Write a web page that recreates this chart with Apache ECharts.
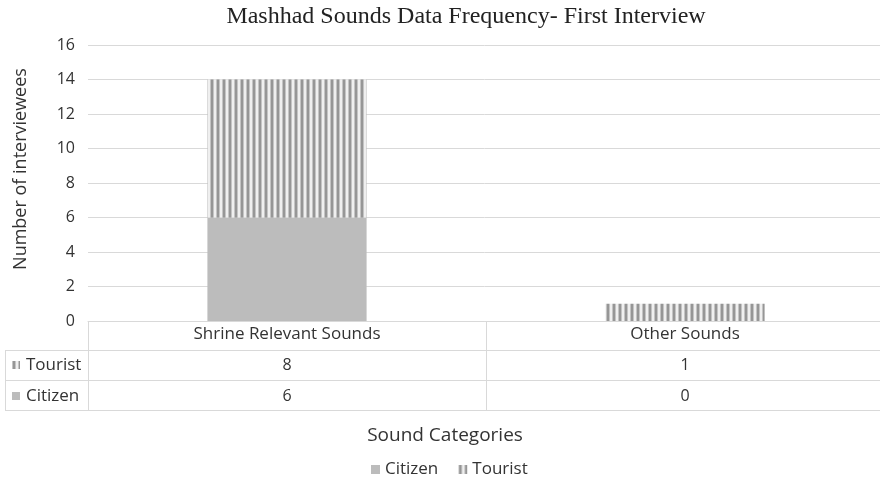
<!DOCTYPE html>
<html><head><meta charset="utf-8">
<script src="https://cdn.jsdelivr.net/npm/echarts@6/dist/echarts.min.js"></script>
<style>html,body{margin:0;padding:0;background:#fff}#chart{width:880px;height:482px}</style>
</head><body><div id="chart"></div>
<script>
// Chart data
const categories = ['Shrine Relevant Sounds', 'Other Sounds'];
const citizen = [6, 0];
const tourist = [8, 1];
const seriesNames = ['Citizen', 'Tourist'];
const yMin = 0, yMax = 16, yStep = 2;

const FONT = '"Open Sans", Lato, sans-serif';
const INK = '#333';
const LINE = '#d9d9d9';
const CITIZEN_COLOR = '#bcbcbc';

// vertical stripe fill used for the Tourist series
function stripes() {
  const c = document.createElement('canvas');
  c.width = 6; c.height = 6;
  const g = c.getContext('2d');
  const cols = ['#c4c4c4', '#969696', '#969696', '#c4c4c4', '#efefef', '#efefef'];
  cols.forEach((col, i) => { g.fillStyle = col; g.fillRect(i, 0, 1, 6); });
  return c;
}
const touristFill = { image: stripes(), repeat: 'repeat' };

const chart = echarts.init(document.getElementById('chart'), null, { renderer: 'canvas' });

chart.setOption({
  animation: false,
  backgroundColor: '#fff',
  title: {
    text: 'Mashhad Sounds Data Frequency- First Interview',
    left: 461, top: 0, textAlign: 'center',
    textStyle: { fontFamily: '"Liberation Serif", "Times New Roman", serif', fontSize: 24, fontWeight: 'normal', color: '#222' }
  },
  grid: { left: 88, top: 45, width: 796, height: 276, outerBoundsMode: 'none', containLabel: false },
  legend: {
    data: seriesNames,
    left: 366, top: 456,
    itemWidth: 9, itemHeight: 9, itemGap: 20,
    icon: 'rect',
    textStyle: { fontFamily: FONT, fontSize: 17, color: INK }
  },
  xAxis: {
    type: 'category',
    data: categories,
    axisLine: { lineStyle: { color: LINE } },
    axisTick: { show: false },
    axisLabel: { margin: 5, fontFamily: FONT, fontSize: 17, color: INK }
  },
  yAxis: {
    type: 'value', min: yMin, max: yMax, interval: yStep,
    axisLine: { show: false }, axisTick: { show: false },
    axisLabel: { margin: 13, fontFamily: FONT, fontSize: 16, color: INK },
    splitLine: { lineStyle: { color: LINE } }
  },
  series: [
    { name: 'Citizen', type: 'bar', stack: 's', data: citizen, barWidth: '40%',
      itemStyle: { color: CITIZEN_COLOR } },
    { name: 'Tourist', type: 'bar', stack: 's', data: tourist, barWidth: '40%',
      itemStyle: { color: touristFill } }
  ]
});

// Data table below the plot
const axisY = 321, row1 = 350, row2 = 380, row3 = 410;
const leftX = 5, plotL = 88, plotR = 884;
const els = [];
function hline(y, x1, x2) {
  els.push({ type: 'line', shape: { x1, y1: y + 0.5, x2, y2: y + 0.5 }, style: { stroke: LINE, lineWidth: 1 }, silent: true });
}
function vline(x, y1, y2) {
  els.push({ type: 'line', shape: { x1: x + 0.5, y1, x2: x + 0.5, y2 }, style: { stroke: LINE, lineWidth: 1 }, silent: true });
}
function text(x, y, s, align, size) {
  els.push({ type: 'text', x, y, style: { text: String(s), font: (size || 16) + 'px ' + FONT, fill: INK, align: align || 'center', verticalAlign: 'middle' }, silent: true });
}
hline(row1, leftX, plotR);
hline(row2, leftX, plotR);
hline(row3, leftX, plotR);
vline(leftX, row1, row3);
vline(plotL, axisY, row3);
const cx = categories.map((c, i) => chart.convertToPixel({ xAxisIndex: 0 }, i));
for (let i = 1; i < categories.length; i++) vline(Math.round((cx[i - 1] + cx[i]) / 2), axisY, row3);

// rows: Tourist on top, Citizen below
const rows = [
  { name: 'Tourist', vals: tourist, fill: touristFill, y: (row1 + row2) / 2 },
  { name: 'Citizen', vals: citizen, fill: CITIZEN_COLOR, y: (row2 + row3) / 2 + 1 }
];
rows.forEach(r => {
  els.push({ type: 'rect', shape: { x: 12, y: Math.round(r.y) - 4, width: 8, height: 8 }, style: { fill: r.fill }, silent: true });
  text(26, r.y, r.name, 'left', 17);
  r.vals.forEach((v, i) => text(cx[i], r.y, v, 'center', 16));
});
// axis titles
text(445, 436, 'Sound Categories', 'center', 19);
els.push({ type: 'text', x: 21, y: 169, rotation: Math.PI / 2,
  style: { text: 'Number of interviewees', font: '18px ' + FONT, fill: INK, align: 'center', verticalAlign: 'middle' }, silent: true });

chart.setOption({ graphic: { elements: els } });
</script>
</body></html>
